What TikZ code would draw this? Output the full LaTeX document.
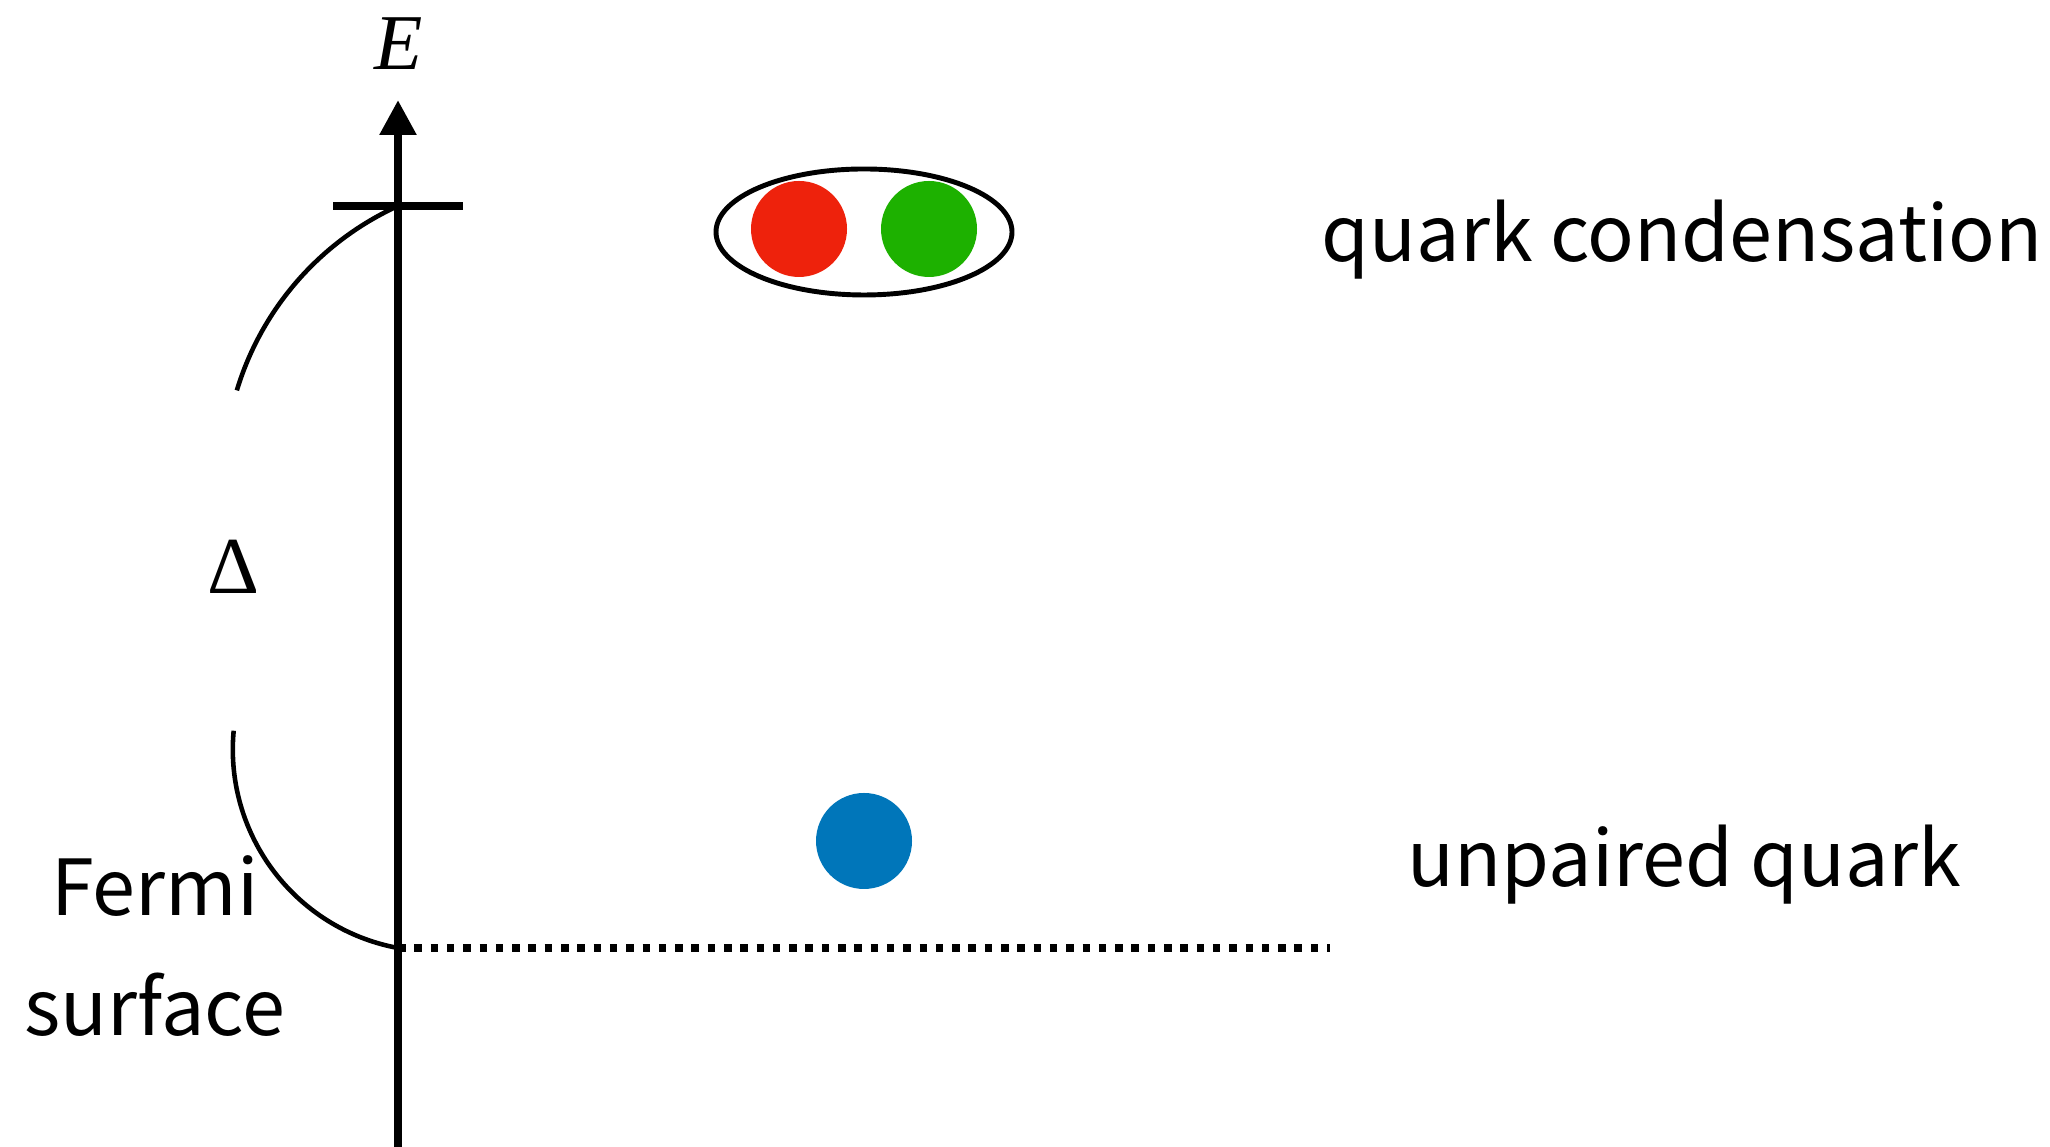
\documentclass[tikz,border=0pt]{standalone}
\usepackage{fontspec}
\setmainfont{Noto Sans CJK JP}
\newfontfamily\greekserif{Liberation Serif}
\usetikzlibrary{arrows.meta,positioning,shapes.geometric}
\definecolor{qred}{HTML}{EE220C}
\definecolor{qgreen}{HTML}{1DB100}
\definecolor{qblue}{HTML}{0076BA}
\tikzset{
  quark/.style={circle,inner sep=0pt,minimum size=0.96cm},
  labeltext/.style={font=\fontsize{22}{26}\selectfont,inner sep=0pt},
}
\begin{document}
\begin{tikzpicture}[line join=round, >={Triangle[length=0.35cm,width=0.35cm]}]
				\def\xaxis{3.98}
				\def\yfermi{1.99}
				\def\ytick{9.41}
				\useasboundingbox (0,0) rectangle (20.5,11.47);
				\coordinate (bottom) at (\xaxis,0);
				\coordinate (tip) at (\xaxis,10.47);
				\coordinate (top) at (\xaxis,\ytick);
				\coordinate (fermi) at (\xaxis,\yfermi);
				\coordinate (far) at (13.30,\yfermi);
				\draw[line width=2.4pt,->] (bottom)--(tip);
				\draw[line width=2.3pt] ([xshift=-0.65cm]top)--([xshift=0.65cm]top);
				\draw[line width=1.3pt] (top) arc[start angle=114.5,end angle=163.2,radius=2.97];
				\draw[line width=1.3pt] (fermi) arc[start angle=259.5,end angle=174.7,radius=2.02];
				\draw[line width=2.1pt,dash pattern=on 0.075cm off 0.088cm] (fermi)--(far);
				\node[labeltext,font=\fontsize{22.5}{27}\selectfont,anchor=base] (E) at (3.99,10.77) {\greekserif\itshape E};
				\node[labeltext,font=\fontsize{23}{27}\selectfont,anchor=base] (gap) at (2.33,5.53) {\greekserif Δ};
				\node[draw,ellipse,line width=1.4pt,inner sep=0pt,minimum width=2.96cm,minimum height=1.26cm] (pair) at (8.64,9.15) {};
				\node[quark,fill=qred] (red) at (7.99,9.18) {};
				\node[quark,fill=qgreen] (green) at (9.29,9.18) {};
				\node[quark,fill=qblue] (blue) at (8.64,3.06) {};
				\node[labeltext,anchor=base west] (cond) at (13.21,8.85) {quark condensation};
				\node[labeltext,anchor=base west] (unpaired) at (14.07,2.60) {unpaired quark};
				\node[labeltext,anchor=base] (fermitext) at (1.55,2.31) {Fermi};
				\node[labeltext,anchor=base] (surface) at (1.55,1.11) {surface};
\end{tikzpicture}
\end{document}
